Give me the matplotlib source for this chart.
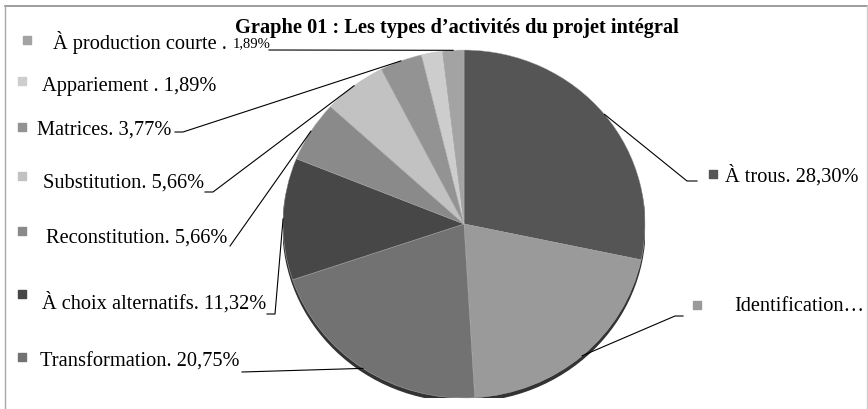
import matplotlib
matplotlib.use("Agg")
import numpy as np
import matplotlib.pyplot as plt

# data (counts out of 53 activities -> percentages)
labels = ["À trous", "Identification", "Transformation", "À choix alternatifs",
          "Reconstitution", "Substitution", "Matrices", "Appariement",
          "À production courte"]
percents = [28.30, 20.75, 20.75, 11.32, 5.66, 5.66, 3.77, 1.89, 1.89]
label_texts = ["À trous. 28,30%", "Identification…", "Transformation. 20,75%",
               "À choix alternatifs. 11,32%", "Reconstitution. 5,66%",
               "Substitution. 5,66%", "Matrices. 3,77%", "Appariement . 1,89%",
               "À production courte . "]
colors = ["#555555", "#9a9a9a", "#727272", "#474747", "#8a8a8a",
          "#c2c2c2", "#939393", "#cdcdcd", "#a3a3a3"]

W, H = 868, 410
cx, cy, rx, ry = 464, 225, 181, 174

plt.rcParams['font.family'] = ['Liberation Serif', 'DejaVu Serif']
fig = plt.figure(figsize=(W / 100, H / 100), dpi=100)

# overlay axes in pixel coordinates
ax = fig.add_axes([0, 0, 1, 1])
ax.set_xlim(0, W)
ax.set_ylim(H, 0)
ax.axis("off")

# pie axes (slightly elliptical)
pax = fig.add_axes([(cx - rx) / W, (H - cy - ry) / H, 2 * rx / W, 2 * ry / H])
pax.set_zorder(1)
shadow = matplotlib.patches.Ellipse((0, -0.02), 2.0, 2.0, color="#333333", zorder=0)
pax.add_patch(shadow)
wedges, _ = pax.pie(percents, colors=colors, startangle=90, counterclock=False,
                    radius=1, wedgeprops=dict(linewidth=0.3, edgecolor="#bbbbbb"))
pax.set_aspect("auto")
pax.set_xlim(-1, 1)
pax.set_ylim(-1, 1)
pax.axis("off")

ax.set_zorder(2)
ax.patch.set_alpha(0)

# frame
ax.plot([5, 867], [7, 7], color="#8c8c8c", lw=1.2)
ax.plot([5, 5], [7, H], color="#a8a8a8", lw=1.0)
ax.plot([867, 867], [7, H], color="#cccccc", lw=1.0)

ax.text(457, 28, "Graphe 01 : Les types d’activités du projet intégral",
        ha="center", va="center", fontsize=14.7, fontweight="bold")

# label layout: square pos, text start, text y, leader start (None = no leader)
layout = {
    "À trous": ((713, 175), 725, 176, [(697, 182), (687, 182)]),
    "Identification": ((697, 306), 734, 307, [(683, 317), (675, 317)]),
    "Transformation": ((22, 358), 40, 362, [(242, 373)]),
    "À choix alternatifs": ((22, 295), 42, 303, [(267, 315), (275, 315)]),
    "Reconstitution": ((22, 232), 46, 238, [(230, 247)]),
    "Substitution": ((22, 177), 43, 183, [(205, 193), (213, 193)]),
    "Matrices": ((22, 128), 37, 130, [(175, 133), (183, 133)]),
    "Appariement": ((22, 82), 42, 86, None),
    "À production courte": ((27, 41), 53, 42, [(269, 51)]),
}

cum = np.cumsum([0] + percents)
for i, lab in enumerate(labels):
    sq, tx, ty, lead = layout[lab]
    ax.scatter([sq[0]], [sq[1]], marker="s", s=26, color=colors[i], zorder=3)
    ax.text(tx, ty, label_texts[i], ha="left", va="center", fontsize=14.7)
    if lead is not None:
        mid = 90 - (cum[i] + percents[i] / 2) * 3.6
        px = cx + 1.0 * rx * np.cos(np.radians(mid))
        py = cy - 1.0 * ry * np.sin(np.radians(mid))
        xs = [p[0] for p in lead] + [px]
        ys = [p[1] for p in lead] + [py]
        ax.plot(xs, ys, color="black", lw=0.8, zorder=3)

# smaller percentage for the first label
ax.text(233, 44, "1,89%", ha="left", va="center", fontsize=10.5)

plt.savefig("out.png", dpi=100)
